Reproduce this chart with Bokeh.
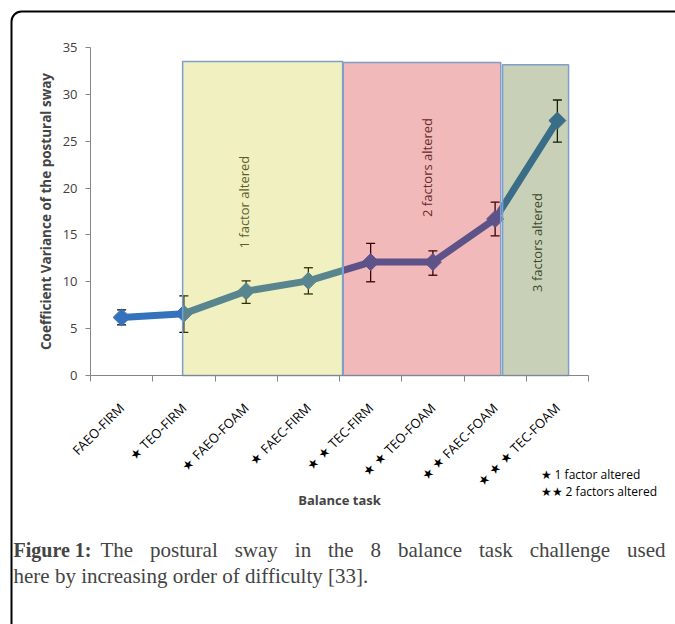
import math
from bokeh.plotting import figure
from bokeh.models import Range1d, FixedTicker, Label, BoxAnnotation
from bokeh.core.properties import value
from bokeh.embed import file_html
from bokeh.resources import INLINE

# ---------------- data ----------------
tasks = ["FAEO-FIRM", "TEO-FIRM", "FAEO-FOAM", "FAEC-FIRM",
         "TEC-FIRM", "TEO-FOAM", "FAEC-FOAM", "TEC-FOAM"]
factors_altered = [0, 1, 1, 1, 2, 2, 2, 3]
cv_mean = [6.2, 6.6, 9.0, 10.1, 12.1, 12.1, 16.7, 27.2]
cv_upper = [7.0, 8.5, 10.1, 11.5, 14.1, 13.3, 18.5, 29.4]
cv_lower = [5.4, 4.6, 7.7, 8.7, 10.0, 10.7, 14.9, 24.9]
y_ticks = [0, 5, 10, 15, 20, 25, 30, 35]

band_labels = ["1 factor altered", "2 factors altered", "3 factors altered"]
band_left = [1.48, 4.06, 6.62]
band_right = [4.05, 6.59, 7.68]
band_top = [33.5, 33.4, 33.15]
band_colors = ["#c7c303", "#cd0505", "#486612"]
band_alpha = [0.25, 0.28, 0.30]

caption_bold = "Figure 1:"
caption_line1 = "The postural sway in the 8 balance task challenge used"
caption_line2 = "here by increasing order of difficulty [33]."

FONT = "Open Sans"
SERIF = "Liberation Serif"
W, H = 675, 624

xs = [i + 0.5 for i in range(len(tasks))]
labels = [("★ " * n) + t for n, t in zip(factors_altered, tasks)]

# canvas pixel -> data helpers (x: 0..8 spans px 90..588, y: 0..35 spans px 375..47)
def dx(px):
    return (px - 90) / 62.25

def dy(py):
    return (375 - py) / (328 / 35)

p = figure(width=W, height=H, x_range=Range1d(dx(0), dx(W)), y_range=Range1d(dy(H), dy(0)),
           output_backend="svg", toolbar_location=None, title=None,
           min_border_left=0, min_border_right=0, min_border_top=0, min_border_bottom=0)
p.xgrid.visible = False
p.ygrid.visible = False
p.outline_line_color = None
p.background_fill_color = "white"

# x axis
xa = p.xaxis[0]
xa.fixed_location = 0
xa.bounds = (0, 8)
xa.ticker = FixedTicker(ticks=xs, minor_ticks=list(range(9)))
xa.major_label_overrides = {x: l for x, l in zip(xs, labels)}
xa.major_tick_in = 0
xa.major_tick_out = 0
xa.minor_tick_in = 0
xa.minor_tick_out = 6
xa.minor_tick_line_color = "#868686"
xa.axis_line_color = "#868686"
xa.major_label_orientation = math.pi / 4
xa.major_label_text_font = FONT
xa.major_label_text_font_size = "13px"
xa.major_label_text_color = "black"
xa.major_label_standoff = 24
xa.axis_label = "Balance task"
xa.axis_label_text_font = FONT
xa.axis_label_text_font_style = "bold"
xa.axis_label_text_font_size = "13px"
xa.axis_label_standoff = -8

ya = p.yaxis[0]
ya.fixed_location = 0
ya.bounds = (0, 35)
ya.ticker = FixedTicker(ticks=y_ticks)
ya.major_tick_in = 0
ya.major_tick_out = 5
ya.minor_tick_out = 0
ya.minor_tick_in = 0
ya.major_tick_line_color = "#868686"
ya.axis_line_color = "#868686"
ya.major_label_text_font = FONT
ya.major_label_text_font_size = "13px"
ya.major_label_text_color = "#404040"
ya.major_label_standoff = 8
ya.axis_label = "Coefficient Variance of the postural sway"
ya.axis_label_text_font = FONT
ya.axis_label_text_font_style = "bold"
ya.axis_label_text_font_size = "13.5px"
ya.axis_label_standoff = 5

# error bars
p.segment(x0=xs, y0=cv_lower, x1=xs, y1=cv_upper, line_color="black", line_width=1.3)
p.scatter(xs, cv_upper, marker="dash", size=9, line_color="black", line_width=1.3)
p.scatter(xs, cv_lower, marker="dash", size=9, line_color="black", line_width=1.3)

# line + markers
p.line(xs, cv_mean, line_color="#3472bc", line_width=7, line_join="round")
p.scatter(xs, cv_mean, marker="square", angle=math.pi / 4, size=12,
          fill_color="#3472bc", line_color="#3472bc")

# band texts (under the translucent bands)
band_text_x = [2.46, 5.41, 7.17]
band_text_y = [18.5, 22.2, 14.2]
p.text(x=band_text_x, y=band_text_y, text=band_labels, angle=math.pi / 2,
       text_align="center", text_baseline="middle", text_font=value(FONT),
       text_font_size="13px", text_color="#3a3a3a")

# translucent bands
p.quad(left=band_left, right=band_right, bottom=0, top=band_top,
       fill_color=band_colors, fill_alpha=band_alpha, line_color="#7f9ecb", line_width=1.5)

# legend for stars
p.add_layout(Label(x=dx(540), y=dy(474), text="★ 1 factor altered", text_font=FONT,
                   text_font_size="12px", text_baseline="middle", text_color="black"))
p.add_layout(Label(x=dx(540), y=dy(491), text="★★ 2 factors altered", text_font=FONT,
                   text_font_size="12px", text_baseline="middle", text_color="black"))

# caption (first line justified: words spread across the full width)
p.add_layout(Label(x=dx(13), y=dy(549), text=caption_bold, text_font=SERIF,
                   text_font_style="bold", text_font_size="20px", text_baseline="middle"))
word_px = [100, 149.6, 234.2, 294.3, 327.5, 370.1, 397.5, 478.5, 529.2, 626.6]
for w, px in zip(caption_line1.split(" "), word_px):
    p.add_layout(Label(x=dx(px), y=dy(549), text=w, text_font=SERIF,
                       text_font_size="21px", text_baseline="middle"))
p.add_layout(Label(x=dx(13), y=dy(575), text=caption_line2,
                   text_font=SERIF, text_font_size="21px", text_baseline="middle"))

# frame border
p.add_layout(BoxAnnotation(left=dx(11), right=dx(760), top=dy(11), bottom=dy(760),
                           fill_alpha=0, line_color="black", line_alpha=1, line_width=2,
                           border_radius=10))

open("out.html", "w").write(file_html(p, INLINE))
